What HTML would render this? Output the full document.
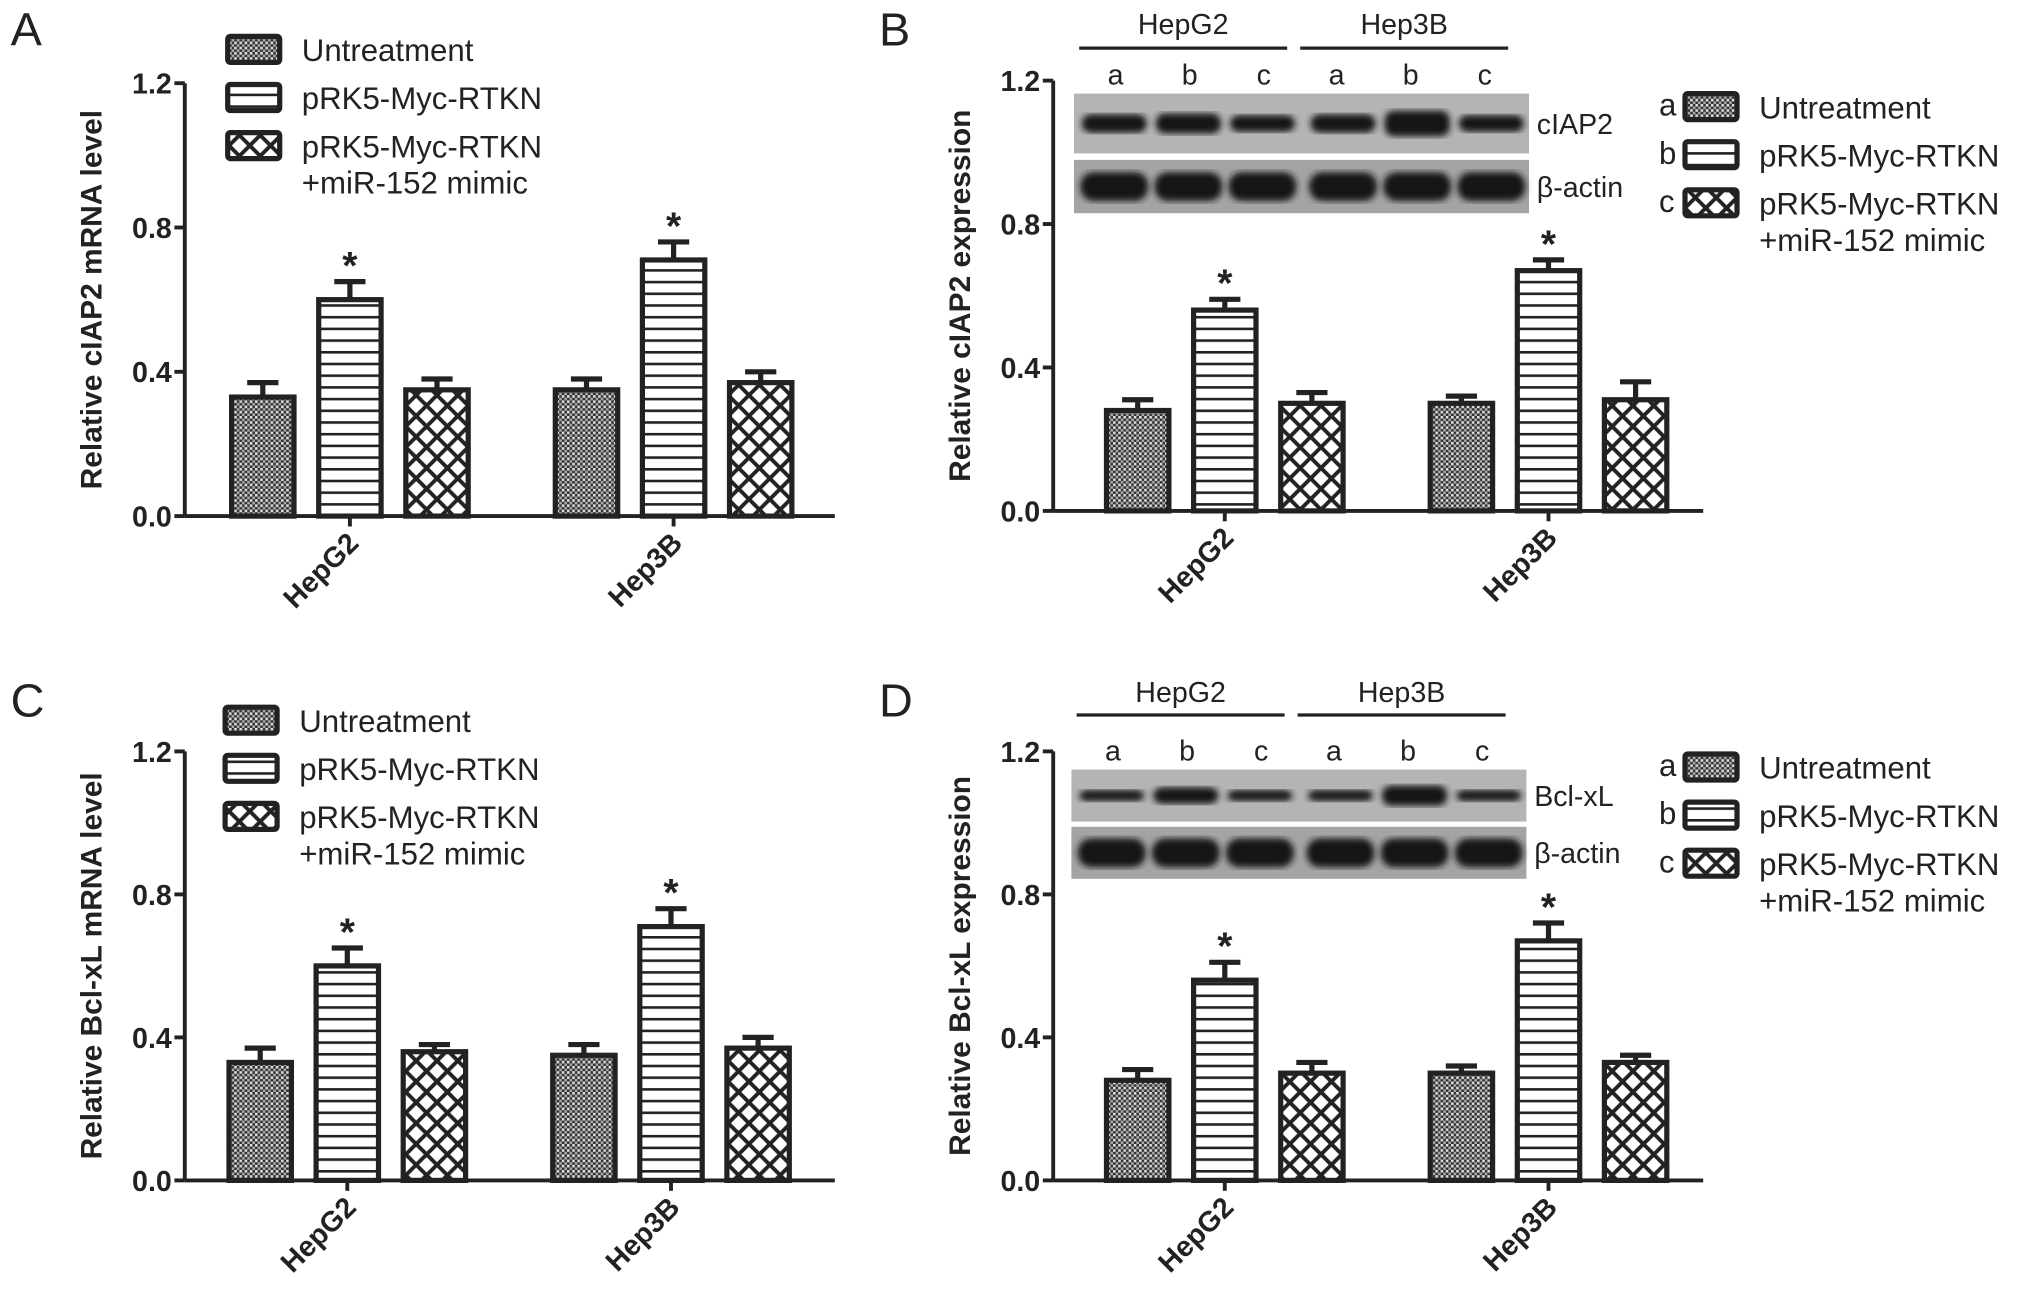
<!DOCTYPE html>
<html><head><meta charset="utf-8"><style>
html,body{margin:0;padding:0;background:#fff;width:2031px;height:1300px;overflow:hidden}
svg{display:block}
text{font-family:"Liberation Sans",Arial,sans-serif;fill:#222}
</style></head><body>
<svg id="fig" width="2031" height="1300" viewBox="0 0 1562 1000" xmlns="http://www.w3.org/2000/svg">
<defs>
<pattern id="pDots" width="4" height="4" patternUnits="userSpaceOnUse"><rect width="4" height="4" fill="#333"/><rect x="0" y="0" width="2" height="2" fill="#ddd"/><rect x="2" y="2" width="2" height="2" fill="#aaa"/></pattern>
<pattern id="pLines" width="6" height="9" patternUnits="userSpaceOnUse"><rect width="6" height="9" fill="#fff"/><rect y="0" width="6" height="2" fill="#222"/></pattern>
<pattern id="pCross" width="16" height="16" patternUnits="userSpaceOnUse"><rect width="16" height="16" fill="#fff"/><path d="M0 0L16 16M16 0L0 16" stroke="#222" stroke-width="3"/></pattern>
<filter id="blur"><feGaussianBlur stdDeviation="2.5"/></filter>
</defs>
<g id="root"></g>
</svg>
<script>
const groups=["HepG2","Hep3B"];
const seriesNames=[["Untreatment"],["pRK5-Myc-RTKN"],["pRK5-Myc-RTKN","+miR-152 mimic"]];
const yTicks=[0.0,0.4,0.8,1.2];
const valsA=[[0.33,0.60,0.35],[0.35,0.71,0.37]];
const errA=[[0.04,0.05,0.03],[0.03,0.05,0.03]];
const valsB=[[0.28,0.56,0.30],[0.30,0.67,0.31]];
const errB=[[0.03,0.03,0.03],[0.02,0.03,0.05]];
const valsC=[[0.33,0.60,0.36],[0.35,0.71,0.37]];
const errC=[[0.04,0.05,0.02],[0.03,0.05,0.03]];
const valsD=[[0.28,0.56,0.30],[0.30,0.67,0.33]];
const errD=[[0.03,0.05,0.03],[0.02,0.05,0.02]];
const star=[[false,true,false],[false,true,false]];
const fills=["url(#pDots)","url(#pLines)","url(#pCross)"];
const NS="http://www.w3.org/2000/svg";
const root=document.getElementById('root');
function el(tag,attrs,parent,txt){const e=document.createElementNS(NS,tag);for(const k in attrs)e.setAttribute(k,attrs[k]);if(txt!==undefined)e.textContent=txt;(parent||root).appendChild(e);return e;}

function panel(letter,ox,oy,y0,ytop,ytitle,vals,errs,firstBar,legendX,legendY,withLetters){
  const g=el('g',{});
  
  
  const yScale=v=>y0-(v/1.2)*(y0-ytop);
  const L=el('text',{x:ox-142+8,y:oy+35,'font-size':36},g,letter);
  
  
  const xAx=ox, xEnd=ox+500;
  const ya=el('line',{x1:xAx,y1:ytop,x2:xAx,y2:y0,stroke:'#222','stroke-width':3},g);
  
  const xa=el('line',{x1:xAx,y1:y0,x2:xEnd,y2:y0,stroke:'#222','stroke-width':3},g);
  
  yTicks.forEach(t=>{const y=yScale(t);
    el('line',{x1:xAx-8,y1:y,x2:xAx,y2:y,stroke:'#222','stroke-width':3},g);
    const tl=el('text',{x:xAx-10,y:y+8,'font-size':22,'font-weight':'bold','text-anchor':'end'},g,t.toFixed(1));
    });
  const yt=el('text',{transform:`translate(${xAx-64},${(y0+ytop)/2}) rotate(-90)`,'font-size':23,'font-weight':'bold','text-anchor':'middle'},g,ytitle);
  
  const bw=48, step=67, gstep=249;
  groups.forEach((gn,gi)=>{
    vals[gi].forEach((v,si)=>{
      const x=ox+firstBar+gi*gstep+si*step, y=yScale(v), ye=yScale(v+errs[gi][si]);
      const eb=el('path',{d:`M${x+bw/2} ${y} V${ye} M${x+bw/2-12} ${ye} H${x+bw/2+12}`,stroke:'#222','stroke-width':4,fill:'none'},g);
      
      const r=el('rect',{x:x,y:y,width:bw,height:y0-y,fill:fills[si],stroke:'#222','stroke-width':4},g);
      
      
      if(star[gi][si]){const s=el('text',{x:x+bw/2,y:ye-2,'font-size':30,'font-weight':'bold','text-anchor':'middle'},g,'*');
        }
    });
    const cx=ox+firstBar+gi*gstep+step+bw/2;
    el('line',{x1:cx,y1:y0,x2:cx,y2:y0+8,stroke:'#222','stroke-width':3},g);
    const xl=el('text',{transform:`translate(${cx+8},${y0+22}) rotate(-45)`,'font-size':22,'font-weight':'bold','text-anchor':'end'},g,gn);
    
  });
  const ly=[0,37,74];
  seriesNames.forEach((parts,i)=>{
    const yy=legendY+ly[i];
    const bx=legendX;
    if(withLetters){const lt=el('text',{x:bx-20,y:yy+17,'font-size':24},g,'abc'[i]);}
    const lr=el('rect',{x:bx,y:yy,width:40,height:20,fill:fills[i],stroke:'#222','stroke-width':4,rx:2},g);
    
    const t=el('text',{x:bx+57,y:yy+19,'font-size':24},g,parts[0]);
    
    if(parts[1]){const t2=el('text',{x:bx+57,y:yy+47,'font-size':24},g,parts[1]);}
  });
  return g;
}
function blot(g,bx,top1,h1,top2,h2,label,abcY,headY,lineY,strong){
  ['HepG2','Hep3B'].forEach((n,i)=>{
    const x1=bx+4+i*170,x2=x1+160;
    const t=el('text',{x:(x1+x2)/2,y:headY,'font-size':22,'text-anchor':'middle'},g,n);
    
    el('line',{x1:x1,y1:lineY,x2:x2,y2:lineY,stroke:'#222','stroke-width':2.5},g);
    ['a','b','c'].forEach((c,j)=>{const tt=el('text',{x:x1+28+j*57,y:abcY,'font-size':22,'text-anchor':'middle'},g,c);});
  });
  const r1=el('rect',{x:bx,y:top1,width:350,height:h1,fill:'#b4b4b4'},g);
  
  const r2=el('rect',{x:bx,y:top2,width:350,height:h2,fill:'#a4a4a4'},g);
  
  for(let i=0;i<6;i++){const cx=bx+31+i*57+(i>2?5:0);
    el('rect',{x:cx-25,y:top1+h1/2-7*strong[i],width:50,height:14*strong[i],rx:7,fill:'#151515',filter:'url(#blur)'},g);
    el('rect',{x:cx-26,y:top2+h2/2-11,width:52,height:22,rx:10,fill:'#151515',filter:'url(#blur)'},g);}
  const l1=el('text',{x:bx+356,y:top1+h1/2+8,'font-size':22},g,label);
  const l2=el('text',{x:bx+356,y:top2+h2/2+8,'font-size':22},g,'β-actin');
}
panel('A',142,0,397,64,'Relative cIAP2 mRNA level',valsA,errA,36,175,28,false);
const gB=panel('B',810,0,393,62,'Relative cIAP2 expression',valsB,errB,41,1296,72,true);
blot(gB,826,72,46,123,41,'cIAP2',65,26,37,[1,1.1,0.9,1,1.4,0.9]);
panel('C',142,516,908,578,'Relative Bcl-xL mRNA level',valsC,errC,34,173,544,false);
const gD=panel('D',810,516,908,578,'Relative Bcl-xL expression',valsD,errD,41,1296,580,true);
blot(gD,824,592,40,636,40,'Bcl-xL',585,540,550,[0.6,0.9,0.6,0.6,1.1,0.6]);
</script>
</body></html>
